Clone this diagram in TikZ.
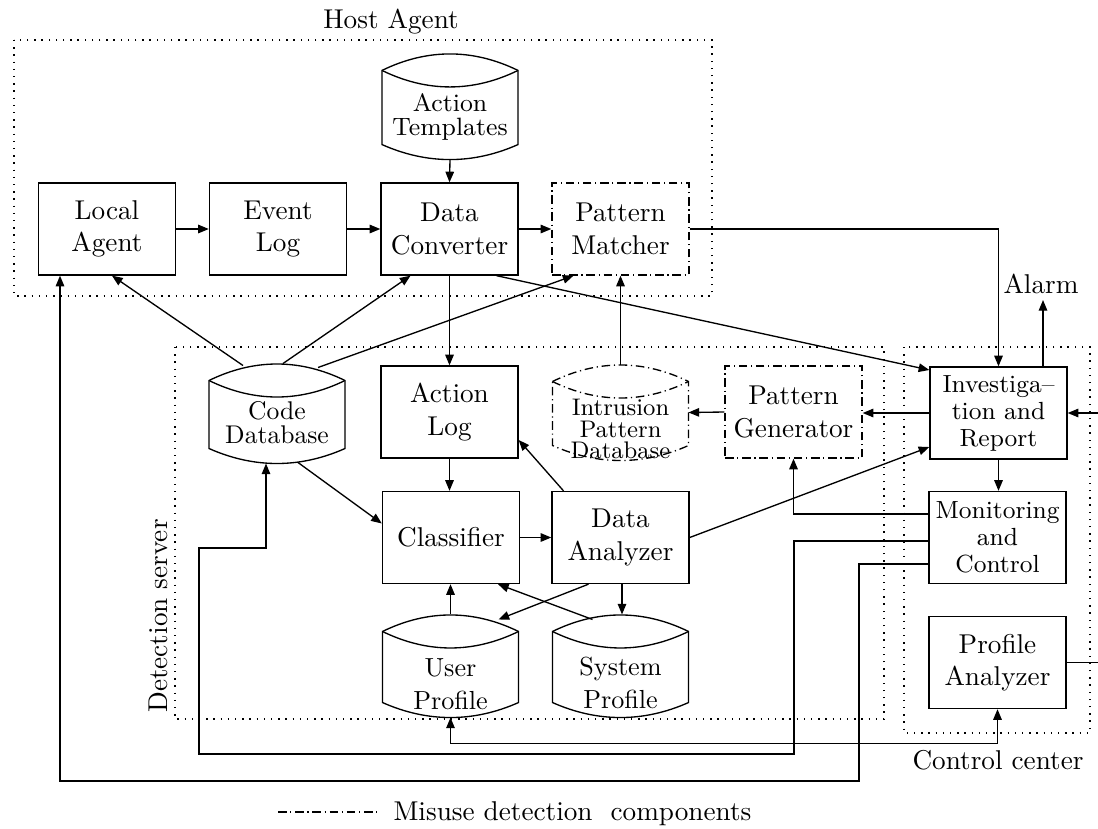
\documentclass[tikz,border=0pt]{standalone}
\usetikzlibrary{arrows.meta,calc}

\tikzset{
  wire/.style={line width=0.5pt},
  box/.style={draw, wire, minimum width=51.4pt, minimum height=34.5pt, inner sep=0pt,
    align=center, font=\fontsize{10.2}{12.2}\selectfont},
  boxsmall/.style={box, font=\fontsize{9.3}{10.1}\selectfont},
  misuse/.style={dash pattern=on 3.2pt off 1.4pt on 0.45pt off 1.4pt},
  drum/.style={minimum width=50.6pt, minimum height=37.5pt, inner sep=0pt},
  drumtext/.style={align=center, inner sep=0pt},
  group/.style={wire, dash pattern=on 0.5pt off 2.2pt},
  arr/.style={wire, -{Triangle[length=4pt,width=3.2pt]}},
  biarr/.style={wire, {Triangle[length=4pt,width=3.2pt]}-{Triangle[length=4pt,width=3.2pt]}},
  caption/.style={font=\fontsize{10.2}{12}\selectfont, inner sep=0pt},
}

% outline of a database drum around a named node
\newcommand\drumshape[2][]{%
  \draw[wire,#1]
    ($(#2.north west)+(0,17)$) .. controls +(45,-22) and +(-45,-22) .. ($(#2.north east)+(0,17)$)
    -- ($(#2.south east)+(0,-15)$) .. controls +(-45,20) and +(45,20) .. ($(#2.south west)+(0,-15)$)
    -- cycle;
  \draw[wire,#1]
    ($(#2.north west)+(0,17)$) .. controls +(45,22) and +(-45,22) .. ($(#2.north east)+(0,17)$);
}

\begin{document}
\begin{tikzpicture}[x=0.375pt,y=-0.375pt]
\useasboundingbox (0,0) rectangle (1098,828);
\clip (0,0) rectangle (1098,828);

% ---- groups
\draw[group] (14,40) rectangle (712,296);
\node[caption] (hostlbl) at (391,22) {Host Agent};
\draw[group] (175,347) rectangle (884,719);
\node[caption, rotate=90] (detlbl) at (158,616) {Detection server};
\draw[group] (904,347) rectangle (1090,733);
\node[caption] (ctrllbl) at (998,760) {Control center};

% ---- host agent
\node[box] (la) at (107,229) {Local\\Agent};
\node[box] (el) at (278,229) {Event\\Log};
\node[box] (dc) at (449.5,229) {Data\\Converter};
\node[box, misuse] (pm) at (620.5,229) {Pattern\\Matcher};
\node[drum, minimum height=39.4pt] (at) at (450,106.5) {};
\drumshape{at}
\node[drumtext, font=\fontsize{9.4}{9}\selectfont] (at-t) at (450,117) {Action\\Templates};

% ---- detection server
\node[drum, minimum height=37.1pt] (cd) at (277,413.5) {};
\drumshape{cd}
\node[drumtext, font=\fontsize{9.6}{9}\selectfont] (cd-t) at (277,423) {Code\\Database};
\node[box] (al) at (449.5,412) {Action\\Log};
\node[drum, minimum height=35.6pt] (ipd) at (620.5,412.5) {};
\drumshape[misuse]{ipd}
\node[drumtext, font=\fontsize{9}{8}\selectfont] (ipd-t) at (620.5,429) {Intrusion\\Pattern\\Database};
\node[box, misuse] (pg) at (793.5,412) {Pattern\\Generator};
\node[box] (cl) at (451,537.5) {Classifier};
\node[box] (da) at (620.5,537.5) {Data\\Analyzer};
\node[drum, minimum height=38.25pt] (up) at (450.5,666) {};
\drumshape{up}
\node[drumtext, font=\fontsize{9.8}{12.4}\selectfont] (up-t) at (450.5,684) {User\\Profile};
\node[drum, minimum height=38.25pt] (sp) at (620.5,666) {};
\drumshape{sp}
\node[drumtext, font=\fontsize{9.8}{12.4}\selectfont] (sp-t) at (620.5,683) {System\\Profile};

% ---- control center
\node[boxsmall] (ir) at (998.5,413) {Investiga--\\tion and\\Report};
\node[boxsmall] (mc) at (997.5,537.5) {Monitoring\\and\\Control};
\node[box] (pa) at (997.5,662.5) {Profile\\Analyzer};
\coordinate (alarm) at (1043,300);
\node[caption, anchor=base] (alarmlbl) at (1041,293) {Alarm};

% ---- connectors: host agent
\draw[arr] (la.east) -- (el.west);
\draw[arr] (el.east) -- (dc.west);
\draw[arr] (dc.east) -- (pm.west);
\draw[arr] (at.south) -- (dc.north);
\draw[arr] (pm.east) -| (ir.north);
\draw[arr] (ir.north -| alarm) -- (alarm);

% code database fan-out
\draw[arr] ($(cd.north)+(-34,2)$) -- ($(la.south)+(5,0)$);
\draw[arr] ($(cd.north)+(6,0)$) -- ($(dc.south)+(-39,0)$);
\draw[arr] ($(cd.north)+(41,4)$) -- ($(pm.south)+(-47,0)$);
\draw[arr] ($(cd.south)+(21,-1)$) -- ($(cl.west)+(0,-14)$);

% detection server
\draw[arr] (dc.south) -- (al.north);
\draw[arr] ($(dc.south)+(47,0)$) -- ($(ir.west)+(0,-43)$);
\draw[arr] (ipd.north) -- (pm.south);
\draw[arr] (pg.west) -- (ipd.east);
\draw[arr] (ir.west) -- (ir.west -| pg.east);
\draw[arr] (al.south) -- (al.south |- cl.north);
\draw[arr] (cl.east) -- (da.west);
\draw[arr] ($(da.north)+(-57,0)$) -- ($(al.east)+(0,28)$);
\draw[arr] ($(da.south)+(1.5,0)$) -- ($(sp.north)+(1.5,0)$);
\draw[arr] ($(da.south)+(-32,0)$) -- ($(up.north)+(48,5)$);
\draw[arr] ($(sp.north)+(-28,5)$) -- ($(cl.south)+(47,0)$);
\draw[arr] (up.north) -- (up.north |- cl.south);
\draw[arr] (da.east) -- ($(ir.west)+(0,34)$);

% control center
\draw[arr] (ir.south) -- (ir.south |- mc.north);
\draw[arr] ($(mc.west)+(0,-23.5)$) -| (pg.south);
\draw[arr] ($(mc.west)+(0,3.5)$) -| (794,754) -| (199,548) -| ($(cd.south)+(-11,0)$);
\draw[arr] ($(mc.west)+(0,26.5)$) -| (859,781) -| ($(la.south)+(-47,0)$);
\draw[biarr] (up.south) -- ++(0,26) -| (pa.south);
\draw[arr] (pa.east) -- (1108,662.5) |- (ir.east);

% ---- legend
\coordinate (lg-a) at (278,812);
\coordinate (lg-b) at (377,812);
\draw[wire, misuse] (lg-a) -- (lg-b);
\node[caption, anchor=west] (lg) at (393,814) {Misuse detection\ \ components};
\end{tikzpicture}
\end{document}
